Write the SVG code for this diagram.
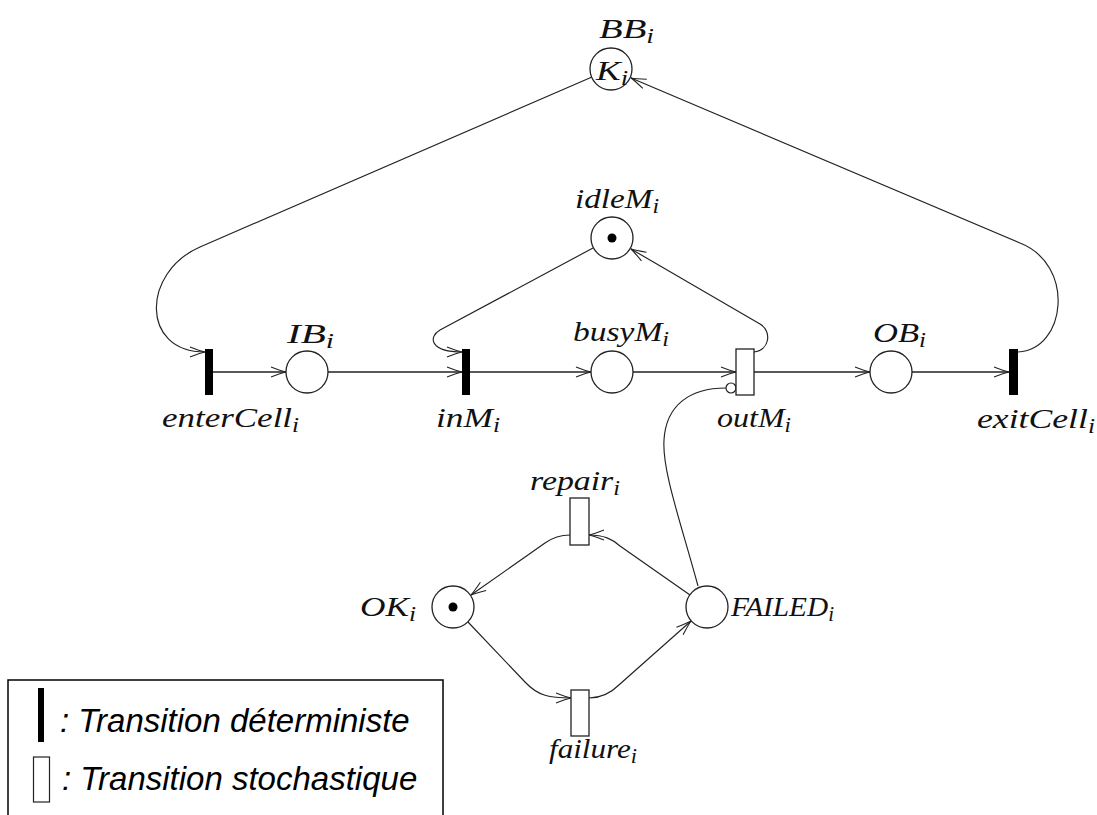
<svg xmlns="http://www.w3.org/2000/svg" width="1097" height="815" viewBox="0 0 1097 815">
<style>
.pl{fill:#fff;stroke:#222;stroke-width:1.3}
.td{fill:#000}
.ts{fill:#fff;stroke:#222;stroke-width:1.3}
.tok{fill:#000}
.m{font-family:"Liberation Serif","DejaVu Serif",serif;font-style:italic;font-size:28px;fill:#111}
.sub{font-size:20px}
.c{fill:none;stroke:#222;stroke-width:1.15}
.h{stroke-width:1.5}
.lg{font-family:"Liberation Sans",Arial,sans-serif;font-style:italic;font-size:33px;fill:#000}
</style>
<defs>
<marker id="arr" viewBox="-17 -7 19 14" markerWidth="19" markerHeight="14" refX="0" refY="0" orient="auto" markerUnits="userSpaceOnUse">
<path d="M-15,-5 Q-5,-1.2 0,0 Q-5,1.2 -15,5" fill="none" stroke="#222" stroke-width="1.1"/>
</marker>
</defs>
<rect width="1097" height="815" fill="#fff"/>

<g id="connectors">
<path class="c h" d="M213,372 L286,372" marker-end="url(#arr)"/>
<path class="c h" d="M328,372 L462,372" marker-end="url(#arr)"/>
<path class="c h" d="M470,372 L591,372" marker-end="url(#arr)"/>
<path class="c h" d="M633,372 L736,372" marker-end="url(#arr)"/>
<path class="c h" d="M754,372 L870,372" marker-end="url(#arr)"/>
<path class="c h" d="M912,372 L1009,372" marker-end="url(#arr)"/>
<path class="c" d="M592,77 L200,247 C142,272 140,352 205,352" marker-end="url(#arr)"/>
<path class="c" d="M1018,352 C1066,350 1076,265 1020,243 L631,78" marker-end="url(#arr)"/>
<path class="c" d="M593,248 L440,330 C428,337 430,352 462,352" marker-end="url(#arr)"/>
<path class="c" d="M754,352 C770,350 772,331 760,324 L631,249" marker-end="url(#arr)"/>
<path class="c" d="M690,595 L620,546 C612,539 604,535 589,535" marker-end="url(#arr)"/>
<path class="c" d="M570,535 C560,535 552,538 545,543 L471,595" marker-end="url(#arr)"/>
<path class="c" d="M468,622 L525,682 C538,696 550,698 571,698" marker-end="url(#arr)"/>
<path class="c" d="M589,698 C600,698 610,694 620,684 L691,621" marker-end="url(#arr)"/>
<path class="c" d="M698,586 C680,520 662,470 664,440 C666,405 690,388 726,388"/>
<circle cx="731" cy="388" r="5" fill="#fff" stroke="#222" stroke-width="1.2"/>
</g>

<g id="BB">
<circle class="pl" cx="611" cy="69" r="21"/>
<text class="m" x="599" y="38" textLength="55" lengthAdjust="spacingAndGlyphs">BB<tspan class="sub" dy="5">i</tspan></text>
<text class="m" x="596" y="80" textLength="32" lengthAdjust="spacingAndGlyphs">K<tspan class="sub" dy="5">i</tspan></text>
</g>
<g id="idleM">
<circle class="pl" cx="612" cy="238" r="21"/>
<circle class="tok" cx="612" cy="238" r="4.5"/>
<text class="m" x="575" y="208" textLength="84" lengthAdjust="spacingAndGlyphs">idleM<tspan class="sub" dy="5">i</tspan></text>
</g>
<g id="IB">
<circle class="pl" cx="307" cy="372" r="21"/>
<text class="m" x="287" y="343" textLength="47" lengthAdjust="spacingAndGlyphs">IB<tspan class="sub" dy="5">i</tspan></text>
</g>
<g id="busyM">
<circle class="pl" cx="612" cy="372" r="21"/>
<text class="m" x="573" y="341" textLength="96" lengthAdjust="spacingAndGlyphs">busyM<tspan class="sub" dy="5">i</tspan></text>
</g>
<g id="OB">
<circle class="pl" cx="891" cy="372" r="21"/>
<text class="m" x="873" y="342" textLength="53" lengthAdjust="spacingAndGlyphs">OB<tspan class="sub" dy="5">i</tspan></text>
</g>
<g id="enterCell">
<rect class="td" x="205" y="349" width="8" height="46"/>
<text class="m" x="162" y="427" textLength="137" lengthAdjust="spacingAndGlyphs">enterCell<tspan class="sub" dy="5">i</tspan></text>
</g>
<g id="inM">
<rect class="td" x="462" y="349" width="8" height="46"/>
<text class="m" x="436" y="427" textLength="64" lengthAdjust="spacingAndGlyphs">inM<tspan class="sub" dy="5">i</tspan></text>
</g>
<g id="outM">
<rect class="ts" x="736" y="349" width="18" height="46"/>
<text class="m" x="717" y="427" textLength="74" lengthAdjust="spacingAndGlyphs">outM<tspan class="sub" dy="5">i</tspan></text>
</g>
<g id="exitCell">
<rect class="td" x="1009" y="349" width="9" height="46"/>
<text class="m" x="977" y="428" textLength="118" lengthAdjust="spacingAndGlyphs">exitCell<tspan class="sub" dy="5">i</tspan></text>
</g>
<g id="repair">
<rect class="ts" x="570" y="498" width="19" height="47"/>
<text class="m" x="530" y="490" textLength="90" lengthAdjust="spacingAndGlyphs">repair<tspan class="sub" dy="5">i</tspan></text>
</g>
<g id="OK">
<circle class="pl" cx="453" cy="607" r="21"/>
<circle class="tok" cx="453" cy="607" r="4.5"/>
<text class="m" x="360" y="616" textLength="56" lengthAdjust="spacingAndGlyphs">OK<tspan class="sub" dy="5">i</tspan></text>
</g>
<g id="FAILED">
<circle class="pl" cx="707" cy="607" r="21"/>
<text class="m" x="731" y="616" textLength="103" lengthAdjust="spacingAndGlyphs">FAILED<tspan class="sub" dy="5">i</tspan></text>
</g>
<g id="failure">
<rect class="ts" x="571" y="690" width="18" height="46"/>
<text class="m" x="549" y="758" textLength="88" lengthAdjust="spacingAndGlyphs">failure<tspan class="sub" dy="5">i</tspan></text>
</g>

<g id="legend">
<rect x="8" y="680" width="435" height="140" fill="none" stroke="#000" stroke-width="1.5"/>
<rect x="38" y="688" width="6" height="54" fill="#000"/>
<rect x="33.5" y="757" width="16" height="45" fill="#fff" stroke="#222" stroke-width="1.2"/>
<text class="lg" x="60" y="732">: Transition déterministe</text>
<text class="lg" x="62" y="790">: Transition stochastique</text>
</g>
</svg>
